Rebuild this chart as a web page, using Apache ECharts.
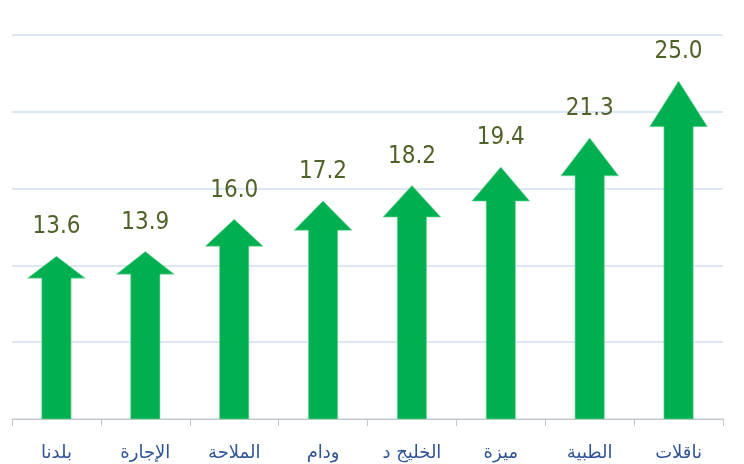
<!DOCTYPE html>
<html>
<head>
<meta charset="utf-8">
<script src="https://cdn.jsdelivr.net/npm/echarts@6/dist/echarts.min.js"></script>
<style>
  html, body { margin: 0; padding: 0; background: #fff; }
  #chart { width: 744px; height: 464px; }
</style>
</head>
<body>
<div id="chart"></div>
<script>
// data
const companies = ['بلدنا', 'الإجارة', 'الملاحة', 'ودام', 'الخليج د', 'ميزة', 'الطبية', 'ناقلات']
const growth = [13.6, 13.9, 16.0, 17.2, 18.2, 19.4, 21.3, 25.0]

const yMin = 3
const yMax = 28
const yStep = 5

const chart = echarts.init(document.getElementById('chart'))

// arrow shaped bar, head is stretched with the bar like the original picture fill
function drawArrow(params, api) {
  const idx = api.value(0)
  const val = api.value(1)
  const tip = api.coord([idx, val])
  const base = api.coord([idx, yMin])
  const w = api.size([1, 0])[0]
  const headW = w * 0.65
  const shaftW = w * 0.33
  const headH = (base[1] - tip[1]) * 0.135
  const x = tip[0]
  const neck = tip[1] + headH
  return {
    type: 'group',
    children: [
      {
        type: 'polygon',
        shape: {
          points: [
            [x - shaftW / 2, base[1]],
            [x - shaftW / 2, neck],
            [x - headW / 2, neck],
            [x, tip[1]],
            [x + headW / 2, neck],
            [x + shaftW / 2, neck],
            [x + shaftW / 2, base[1]]
          ]
        },
        style: { fill: '#00B050', stroke: '#7FD8A6', lineWidth: 0.6 }
      },
      {
        type: 'text',
        style: {
          text: val.toFixed(1),
          x: x,
          y: tip[1] - 17,
          align: 'center',
          verticalAlign: 'bottom',
          fill: '#4F6228',
          font: '24px "Liberation Sans Narrow", "DejaVu Sans Condensed", sans-serif'
        }
      }
    ]
  }
}

const option = {
  animation: false,
  grid: { left: 12, right: 21, top: 35, bottom: 45 },
  xAxis: {
    type: 'category',
    data: companies,
    axisLine: { lineStyle: { color: '#C6C6C6', width: 1 } },
    axisTick: { show: true, length: 7, lineStyle: { color: '#C6C6C6' } },
    axisLabel: {
      color: '#2F5496',
      fontSize: 18,
      fontFamily: 'DejaVu Sans',
      margin: 25
    }
  },
  yAxis: {
    type: 'value',
    min: yMin,
    max: yMax,
    interval: yStep,
    axisLabel: { show: false },
    axisLine: { show: false },
    axisTick: { show: false },
    splitLine: { lineStyle: { color: '#DCE6F4', width: 2 } }
  },
  series: [
    {
      type: 'custom',
      renderItem: drawArrow,
      data: growth.map((v, i) => [i, v])
    }
  ]
}

chart.setOption(option)
</script>
</body>
</html>
